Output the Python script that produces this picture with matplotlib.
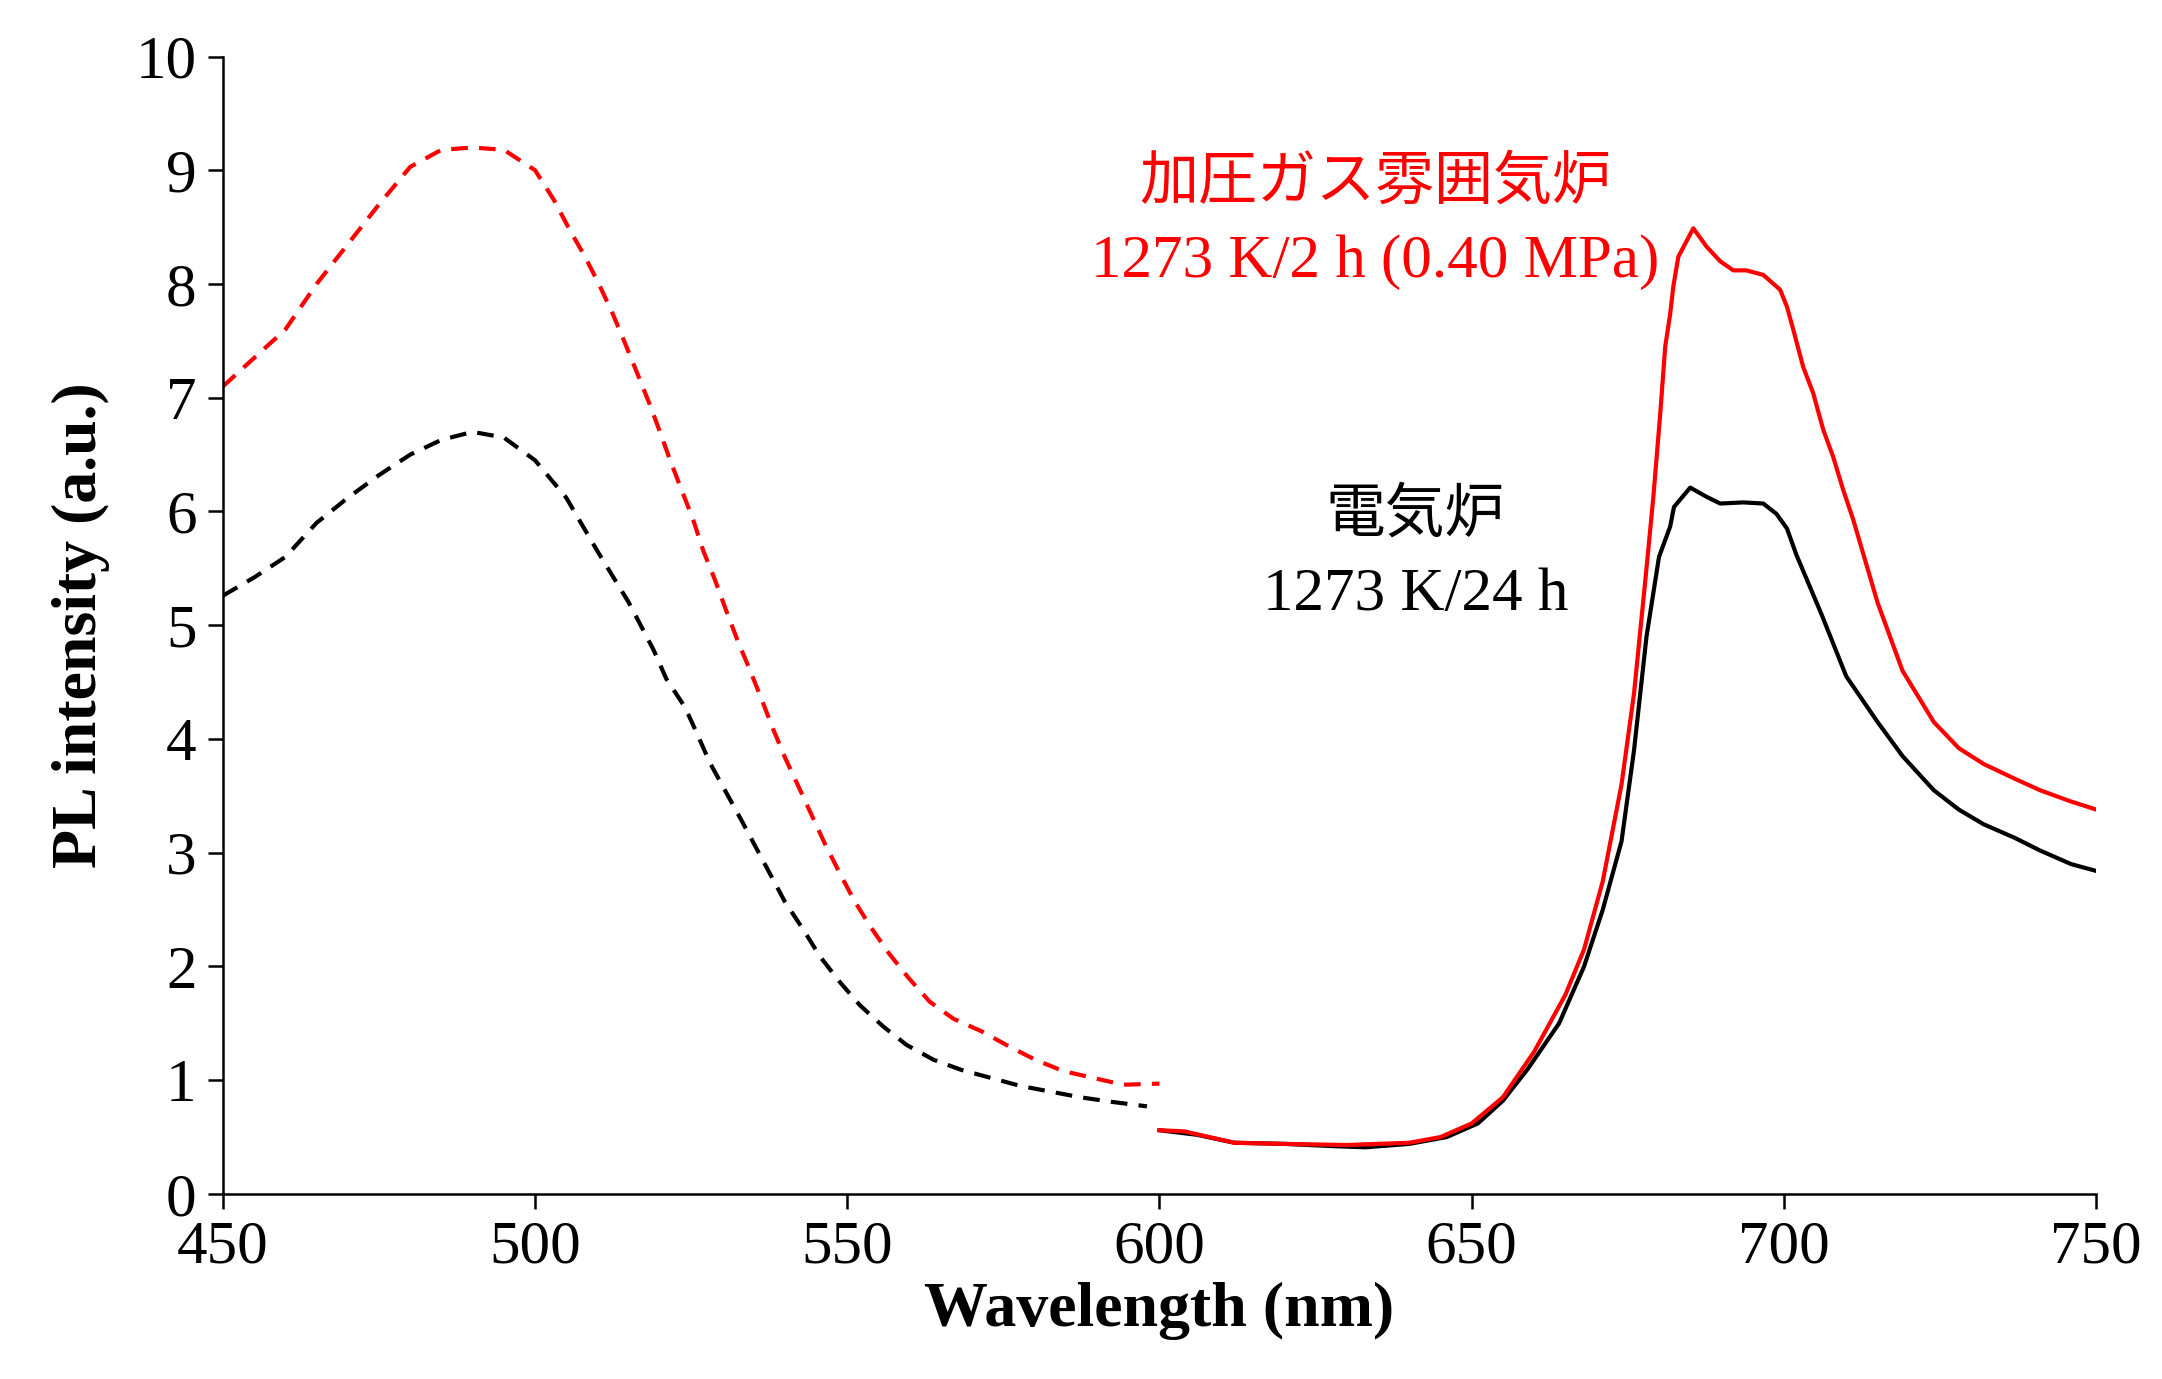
#Importing NumPy for array handling
import numpy as np
#Importing Matplotlib for plotting
import matplotlib
matplotlib.use("Agg")
import matplotlib.pyplot as plt

#Fonts: Times-like serif for latin text, Noto CJK for the Japanese labels
FONTS = ['Liberation Serif', 'Noto Sans CJK JP']
plt.rcParams['font.family'] = FONTS

#Excitation side (dashed), 450-600 nm
wl_gas_exc = [450, 455, 460, 465, 470, 475, 480, 485, 490, 495, 500, 503, 505.6, 508, 510.3,
              512.5, 514.4, 516.4, 518.3, 520, 521.7, 523.6, 525.3, 526.9, 528.8, 530.6, 532.4,
              534.3, 536.2, 538.1, 540, 542.2, 544.3, 546.4, 548.7, 551.1, 553.7, 556.6, 559.8,
              563.2, 567, 571.5, 575.8, 580.1, 584.6, 589.4, 594.2, 600]
gas_exc = [7.10, 7.35, 7.60, 8.00, 8.35, 8.70, 9.03, 9.18, 9.20, 9.18, 9.00, 8.74, 8.47, 8.24, 7.99,
           7.73, 7.48, 7.21, 6.95, 6.70, 6.44, 6.17, 5.93, 5.66, 5.40, 5.13, 4.87,
           4.62, 4.36, 4.09, 3.84, 3.58, 3.33, 3.08, 2.83, 2.58, 2.35, 2.12, 1.90,
           1.69, 1.54, 1.43, 1.30, 1.18, 1.08, 1.02, 0.96, 0.97]
wl_elec_exc = [450, 455, 460, 465, 470, 475, 480, 485, 490, 495, 500, 505, 510, 515, 519, 521,
               524, 526, 528, 530.5, 533, 536.5, 540, 543, 545.6, 548.7, 552, 555.8, 559.5,
               563.8, 568.3, 573, 577.7, 582.5, 587.3, 592.3, 598]
elec_exc = [5.26, 5.42, 5.60, 5.90, 6.12, 6.32, 6.50, 6.63, 6.70, 6.65, 6.45, 6.12, 5.65, 5.20, 4.78,
            4.53, 4.28, 4.04, 3.79, 3.54, 3.29, 2.93, 2.57, 2.32, 2.09, 1.87, 1.66, 1.47, 1.31,
            1.18, 1.09, 1.02, 0.95, 0.90, 0.85, 0.81, 0.77]

#Emission side (solid), 600-750 nm
wl_gas_em = [600, 604, 608, 612, 620, 630, 640, 645, 650, 655, 660, 665, 668, 671, 674, 676, 678,
             679.1, 680.2, 681, 681.8, 682.3, 683.1, 685.5, 687.6, 689.8, 691.9, 694, 696.7, 699.4,
             700.5, 701.5, 703.1, 704.7, 706.3, 707.9, 709.5, 711.1, 715, 719, 724, 728,
             732, 737, 741, 746, 750]
gas_em = [0.56, 0.55, 0.50, 0.45, 0.44, 0.43, 0.45, 0.50, 0.62, 0.85, 1.25, 1.75, 2.15, 2.75, 3.60,
          4.40, 5.50, 6.13, 6.86, 7.45, 7.74, 7.98, 8.24, 8.49, 8.33, 8.20, 8.12, 8.12, 8.08, 7.95,
          7.80, 7.60, 7.27, 7.04, 6.72, 6.48, 6.19, 5.93, 5.20, 4.60, 4.15, 3.92,
          3.78, 3.65, 3.55, 3.45, 3.38]
wl_elec_em = [600, 606, 612, 620, 628, 633, 640, 646, 651, 655, 659, 664, 668, 671, 674, 676, 678,
              680, 681.8, 682.4, 685, 687.6, 689.8, 693.5, 696.7, 698.8, 700.5, 702, 706, 710,
              715, 719, 724, 728, 732, 737, 741, 746, 750]
elec_em = [0.56, 0.52, 0.45, 0.44, 0.42, 0.41, 0.44, 0.50, 0.62, 0.82, 1.10, 1.50, 2.00, 2.50, 3.10,
           3.90, 4.90, 5.60, 5.87, 6.04, 6.21, 6.13, 6.07, 6.08, 6.07, 5.98, 5.85, 5.62, 5.10, 4.55,
           4.15, 3.85, 3.55, 3.38, 3.25, 3.13, 3.02, 2.90, 2.84]

#Annotation texts
gas_label = ["加圧ガス雰囲気炉", "1273 K/2 h (0.40 MPa)"]
elec_label = ["電気炉", "1273 K/24 h"]


def main():
    fig = plt.figure(figsize=(21.62, 13.79), dpi=100) #2162x1379 px
    ax = fig.add_axes([0.1031, 0.1342, 0.8664, 0.8248])

    lw = 3.0
    #dashed curves (excitation)
    ax.plot(wl_gas_exc, gas_exc, color='red', lw=lw, dashes=(4, 2.7))
    ax.plot(wl_elec_exc, elec_exc, color='black', lw=lw, dashes=(4, 2.7))
    #solid curves (emission)
    ax.plot(wl_elec_em, elec_em, color='black', lw=lw)
    ax.plot(wl_gas_em, gas_em, color='red', lw=lw)

    #Axis limits and ticks
    ax.set_xlim(450, 750)
    ax.set_ylim(0, 10)
    ax.set_xticks(np.arange(450, 751, 50))
    ax.set_yticks(np.arange(0, 11, 1))
    ax.tick_params(direction='out', length=11, width=1.8, labelsize=44, pad=8)
    for s in ['top', 'right']:
        ax.spines[s].set_visible(False)
    for s in ['left', 'bottom']:
        ax.spines[s].set_linewidth(1.8)

    ax.set_xlabel("Wavelength (nm)", fontsize=46, fontweight='bold', labelpad=4)
    ax.set_ylabel("PL intensity (a.u.)", fontsize=46, fontweight='bold', labelpad=18)

    #Labels next to the curves
    ax.text(634.5, 8.88, gas_label[0], color='red', fontsize=42.5, ha='center', va='center', family=FONTS)
    ax.text(634.5, 8.19, gas_label[1], color='red', fontsize=44, ha='center', va='center', family=FONTS)
    ax.text(641, 5.95, elec_label[0], color='black', fontsize=43, ha='center', va='center', family=FONTS)
    ax.text(641, 5.26, elec_label[1], color='black', fontsize=44, ha='center', va='center', family=FONTS)

    fig.savefig("out.png", dpi=100)


if __name__ == "__main__":
    main()
